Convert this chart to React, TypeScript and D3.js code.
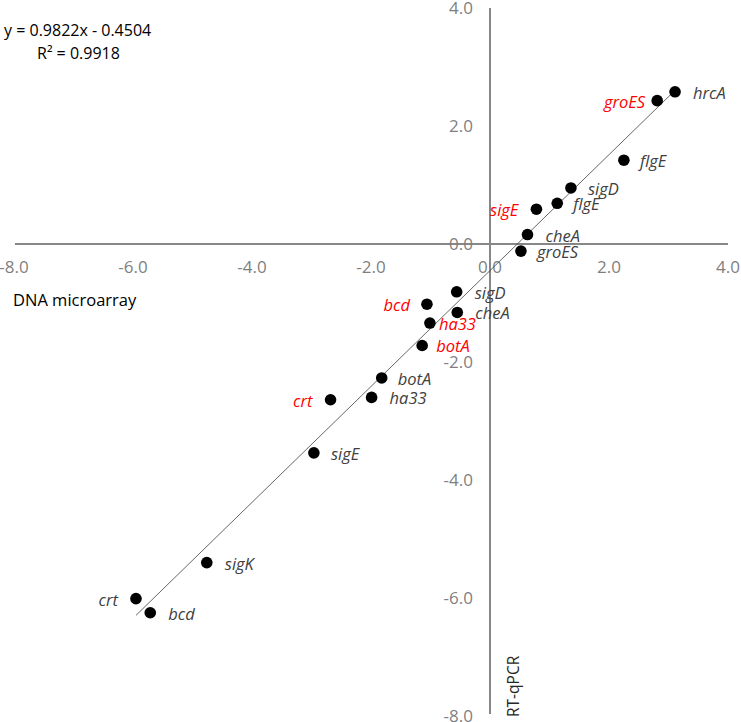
import React from "react";
import * as d3 from "d3";

// ---- data ----
const genes = ["hrcA","groES","flgE","sigD","flgE","sigE","cheA","groES","sigD","bcd","cheA","ha33","botA","botA","ha33","crt","sigE","sigK","crt","bcd"];
const microarray = [3.11,2.81,2.25,1.36,1.13,0.78,0.63,0.52,-0.56,-1.06,-0.55,-1.01,-1.14,-1.82,-1.99,-2.68,-2.96,-4.76,-5.95,-5.71];
const rtqpcr = [2.58,2.43,1.42,0.95,0.69,0.59,0.16,-0.12,-0.81,-1.02,-1.16,-1.34,-1.72,-2.27,-2.60,-2.64,-3.54,-5.40,-6.01,-6.25];
const highlighted = [false,true,false,false,false,true,false,false,false,true,false,true,true,false,false,true,false,false,false,false];
const ticks = [-8,-6,-4,-2,0,2,4];
const slope = 0.9822;
const intercept = -0.4504;
const equationText = "y = 0.9822x - 0.4504";
const r2Text = "R\u00B2 = 0.9918";
const xTitle = "DNA microarray";
const yTitle = "RT-qPCR";

// ---- label placement (layout only) ----
const labelSide = ["r","l","r","r","r","l","r","r","r","l","r","r","r","r","r","l","r","r","l","r"];
const labelGap = [18,12,16,17,16,18,18,16,18,17,18,9,14,16,18,18,17,18,18,18];

export default function App() {
  const W = 741, H = 722;
  const x = d3.scaleLinear().domain([-8, 4]).range([14, 728]);
  const y = d3.scaleLinear().domain([-8, 4]).range([716, 8]);
  const font = "'Open Sans', sans-serif";
  const tickColor = "#7f7f7f";
  const axisColor = "#878787";

  const xMin = d3.min(microarray) as number;
  const xMax = d3.max(microarray) as number;
  const trend = d3.line<number>().x((v) => x(v)).y((v) => y(slope * v + intercept));

  return (
    <svg width={W} height={H} style={{ position: "absolute", left: 0, top: 0, background: "#fff" }}>
      {/* axes */}
      <line x1={x(-8) + 1} x2={x(4)} y1={y(0)} y2={y(0)} stroke={axisColor} strokeWidth={2} />
      <line x1={x(0)} x2={x(0)} y1={y(4)} y2={y(-8) - 2} stroke={axisColor} strokeWidth={2} />

      {/* x tick labels */}
      {ticks.map((t) => (
        <text key={"xt" + t} x={x(t)} y={y(0) + 29} textAnchor="middle" fontFamily={font} fontSize={17} fill={tickColor}>
          {t.toFixed(1)}
        </text>
      ))}
      {/* y tick labels */}
      {ticks.map((t) => (
        <text key={"yt" + t} x={x(0) - 17} y={y(t) + 6} textAnchor="end" fontFamily={font} fontSize={17} fill={tickColor}>
          {t.toFixed(1)}
        </text>
      ))}

      {/* axis titles */}
      <text x={13} y={306} fontFamily={font} fontSize={16.5} fill="#000">{xTitle}</text>
      <text transform={`translate(519, 717) rotate(-90)`} fontFamily={font} fontSize={15.5} fill="#262626">{yTitle}</text>

      {/* trendline */}
      <path d={trend([xMin, xMax]) || ""} fill="none" stroke="#404040" strokeWidth={0.8} />

      {/* points */}
      {microarray.map((v, i) => (
        <circle key={"p" + i} cx={x(v)} cy={y(rtqpcr[i])} r={5.8} fill="#000" />
      ))}

      {/* labels */}
      {genes.map((g, i) => {
        const px = x(microarray[i]);
        const py = y(rtqpcr[i]);
        const right = labelSide[i] === "r";
        return (
          <text
            key={"l" + i}
            x={right ? px + labelGap[i] : px - labelGap[i]}
            y={py + 7}
            textAnchor={right ? "start" : "end"}
            fontFamily={font}
            fontStyle="italic"
            fontSize={16.5}
            fill={highlighted[i] ? "#ff0000" : "#404040"}
          >
            {g}
          </text>
        );
      })}

      {/* equation */}
      <text x={4} y={36} fontFamily={font} fontSize={16} fill="#000">{equationText}</text>
      <text x={37} y={59} fontFamily={font} fontSize={16} fill="#000">{r2Text}</text>
    </svg>
  );
}
